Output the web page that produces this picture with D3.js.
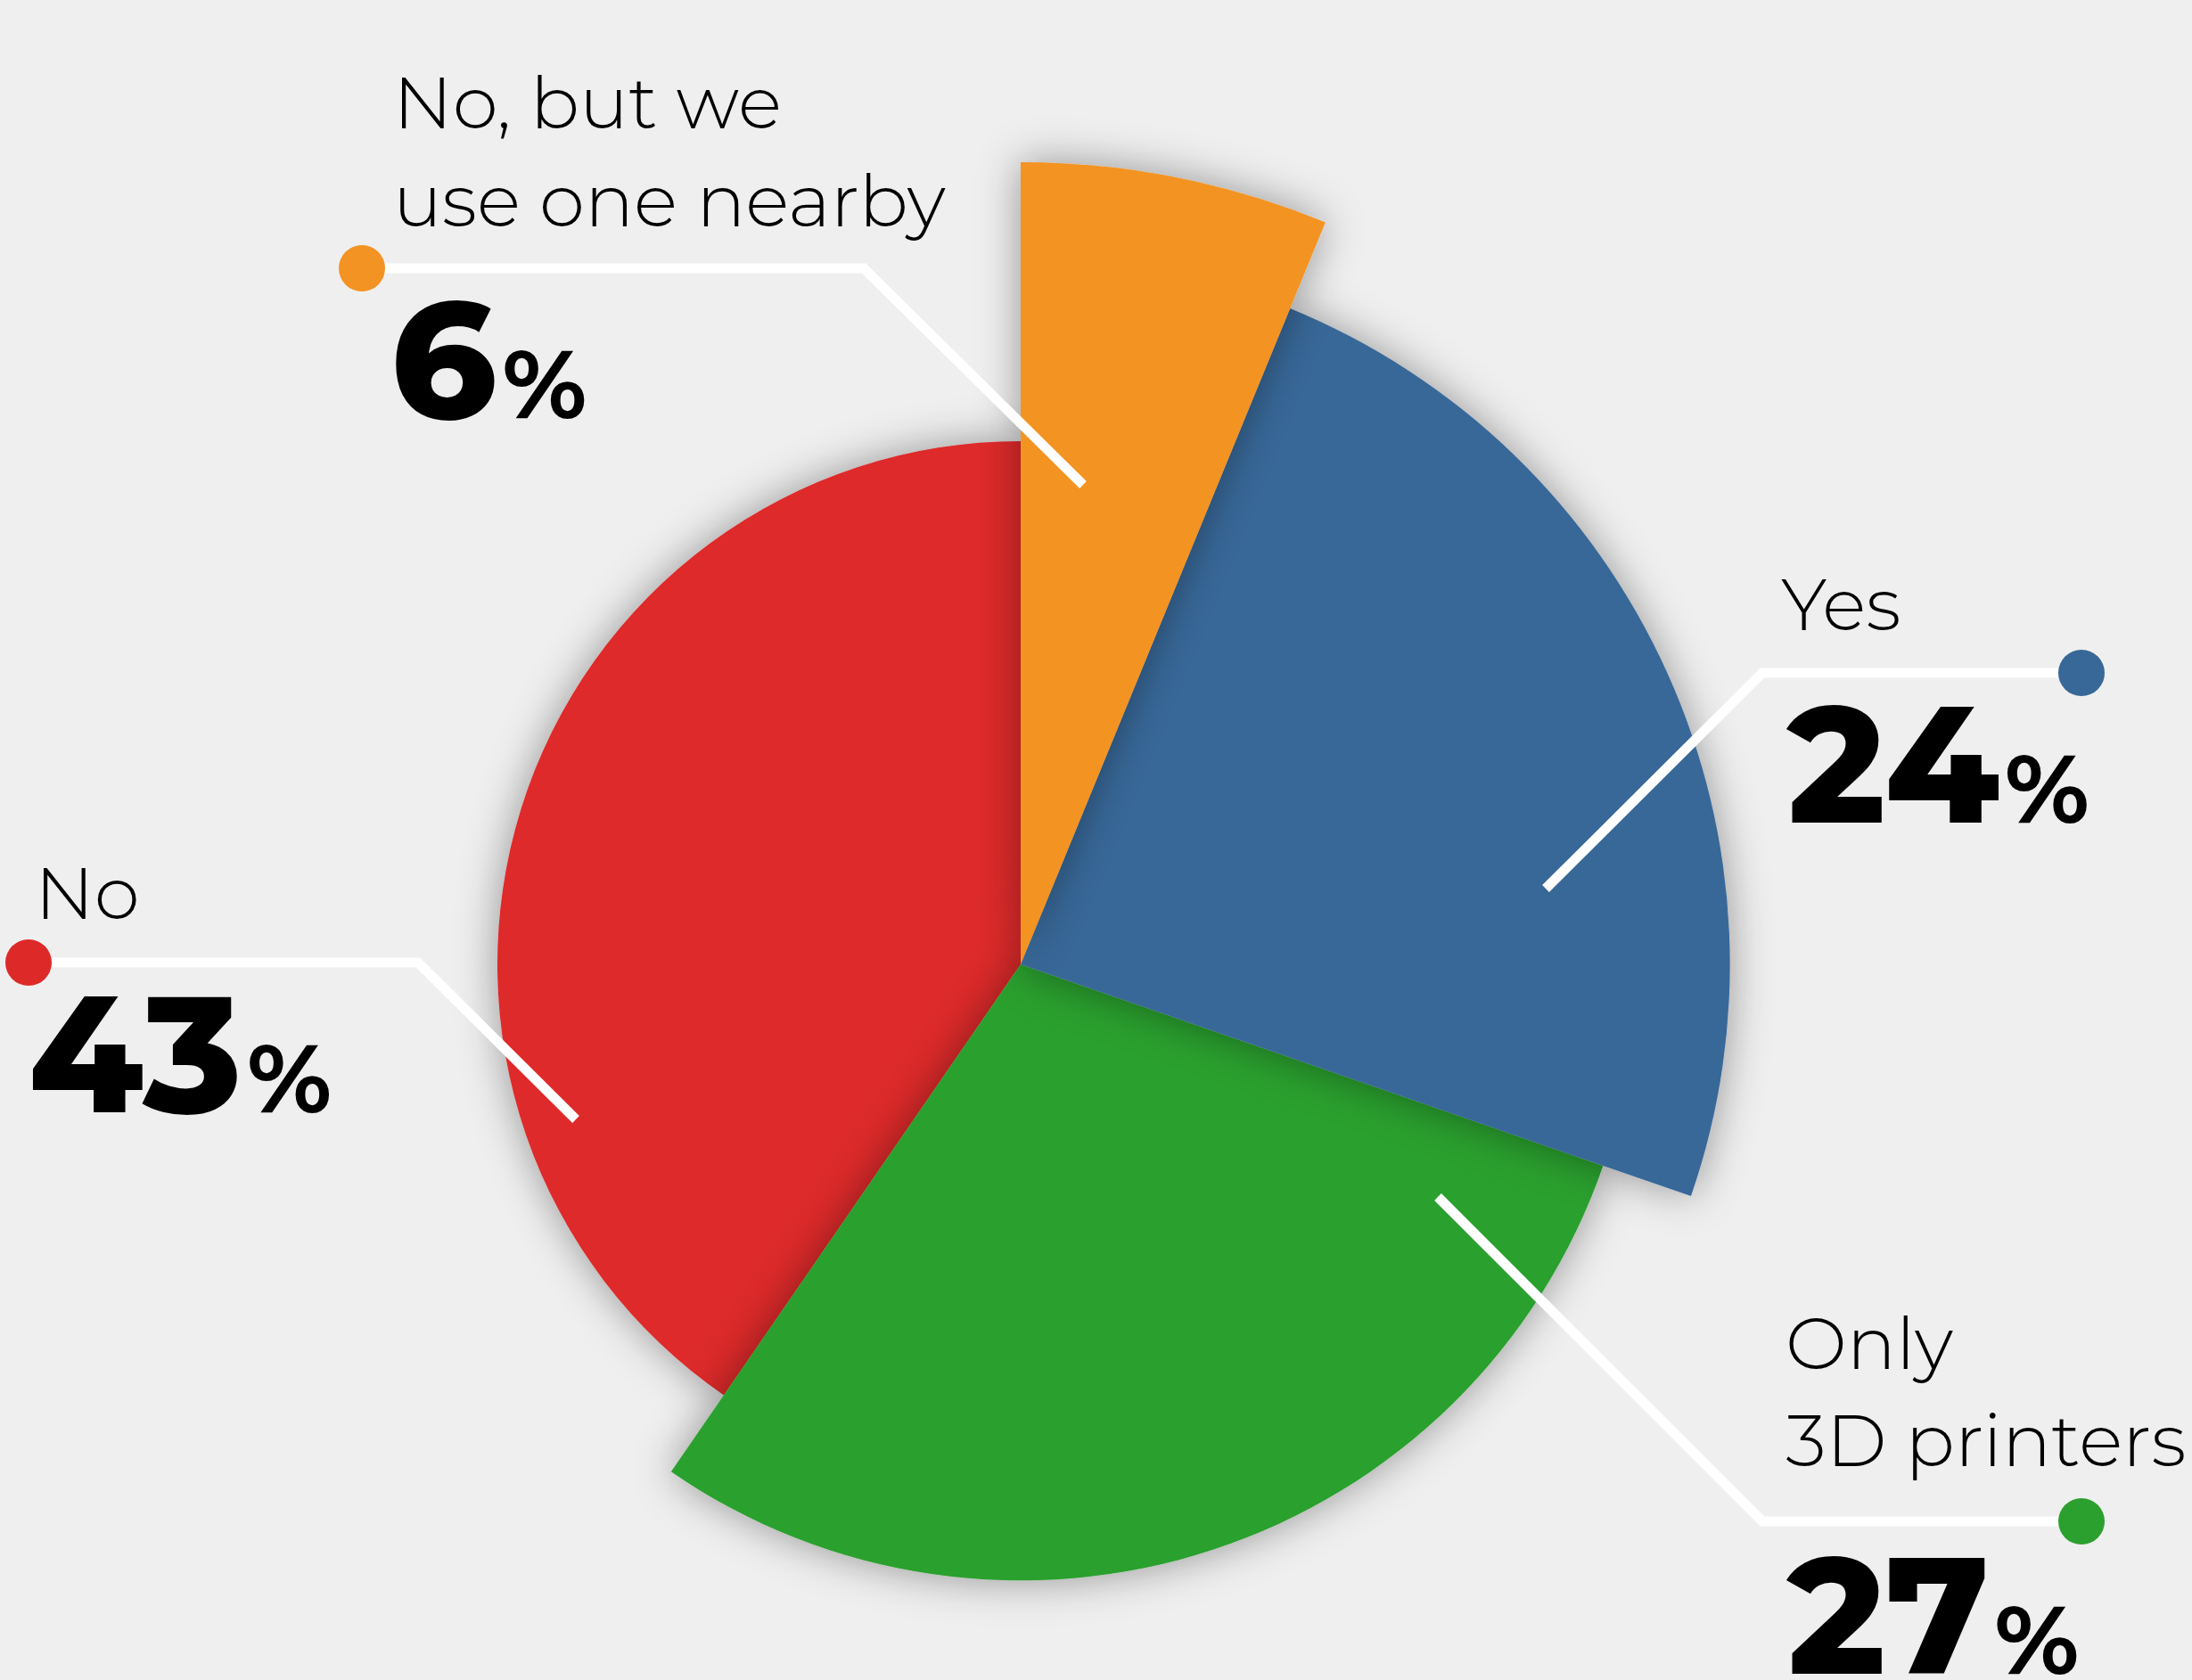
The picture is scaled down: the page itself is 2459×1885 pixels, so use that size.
<!DOCTYPE html>
<html>
<head>
<meta charset="utf-8">
<title>Variable radius pie</title>
<script src="https://d3js.org/d3.v7.min.js"></script>
<style>
    html, body { margin: 0; padding: 0; background: #efefef; }
    svg { display: block; }
    .lbl { font-family: Montserrat, Lato, sans-serif; font-weight: 300; fill: #000; }
    .num { font-family: Montserrat, Lato, sans-serif; font-weight: 800; fill: #000; }
</style>
</head>
<body>
<div id="chart"></div>
<script>
    // categories, clockwise from 12 o'clock
    const categories = ["No, but we use one nearby", "Yes", "Only 3D printers", "No"];
    const labelLines = [["No, but we", "use one nearby"], ["Yes"], ["Only", "3D printers"], ["No"]];
    // printed percentages
    const shares = [6, 24, 27, 43];
    // angular share of each slice as it is drawn in the picture
    const arcShares = [6.2, 24.1, 29.3, 40.4];
    const colors = ["#F39323", "#386898", "#2CA02E", "#DE2929"];

    // label placement (dot, elbow of leader, leader end, text origin)
    const layout = [
        { dot: [406, 301],  elbow: [969, 301],  end: [1215, 544],  tx: 441,  ty: [144, 254],   nx: 438,  ny: 469 },
        { dot: [2335, 755], elbow: [1977, 755], end: [1734, 997],  tx: 1998, ty: [707],        nx: 2005, ny: 923 },
        { dot: [2335, 1707],elbow: [1977, 1707],end: [1613, 1343], tx: 2003, ty: [1536, 1645], nx: 2005, ny: 1878 },
        { dot: [32, 1080],  elbow: [469, 1080], end: [646, 1256],  tx: 39,   ty: [1031],       nx: 32,   ny: 1248 }
    ];

    const width = 2459, height = 1885;
    const cx = 1145, cy = 1082;

    const svg = d3.select("#chart").append("svg")
        .attr("width", width)
        .attr("height", height);

    const defs = svg.append("defs");
    const f = defs.append("filter").attr("id", "shadow")
        .attr("x", "-25%").attr("y", "-25%").attr("width", "150%").attr("height", "150%");
    f.append("feDropShadow")
        .attr("dx", 0).attr("dy", 0)
        .attr("stdDeviation", 24)
        .attr("flood-color", "#000")
        .attr("flood-opacity", 0.38);

    const data = categories.map((c, i) => ({ cat: c, share: shares[i], arc: arcShares[i], i: i }));

    const pie = d3.pie().sort(null).value(d => d.arc);
    const arcs = pie(data);

    // outer radius steps down slice by slice
    const r = d3.scaleLinear().domain([0, categories.length - 1]).range([900, 587]);

    const arc = d3.arc()
        .innerRadius(0)
        .outerRadius(d => r(d.data.i));

    const g = svg.append("g").attr("transform", "translate(" + cx + "," + cy + ")");

    // draw last slice first so each slice casts its shadow on the previous one
    g.selectAll("path.slice")
        .data(arcs.slice().reverse())
        .enter().append("path")
        .attr("class", "slice")
        .attr("d", arc)
        .style("fill", d => colors[d.data.i])
        .attr("filter", "url(#shadow)");

    // leader lines
    const ann = svg.append("g");
    ann.selectAll("polyline")
        .data(layout)
        .enter().append("polyline")
        .attr("points", d => [d.dot, d.elbow, d.end].map(p => p.join(",")).join(" "))
        .style("fill", "none")
        .style("stroke", "#fff")
        .style("stroke-width", 11)
        .style("stroke-linejoin", "miter");

    ann.selectAll("circle")
        .data(layout)
        .enter().append("circle")
        .attr("cx", d => d.dot[0])
        .attr("cy", d => d.dot[1])
        .attr("r", 26)
        .style("fill", (d, i) => colors[i]);

    // category text
    layout.forEach(function (d, i) {
        labelLines[i].forEach(function (line, k) {
            ann.append("text")
                .attr("class", "lbl")
                .attr("x", d.tx)
                .attr("y", d.ty[k])
                .style("font-size", "82px")
                .text(line);
        });
        const t = ann.append("text")
            .attr("class", "num")
            .attr("x", d.nx)
            .attr("y", d.ny);
        t.append("tspan").style("font-size", "184px").text(shares[i]);
        t.append("tspan").style("font-size", "108px").style("font-weight", 700)
            .attr("dx", 6).text("%");
    });
</script>
</body>
</html>
